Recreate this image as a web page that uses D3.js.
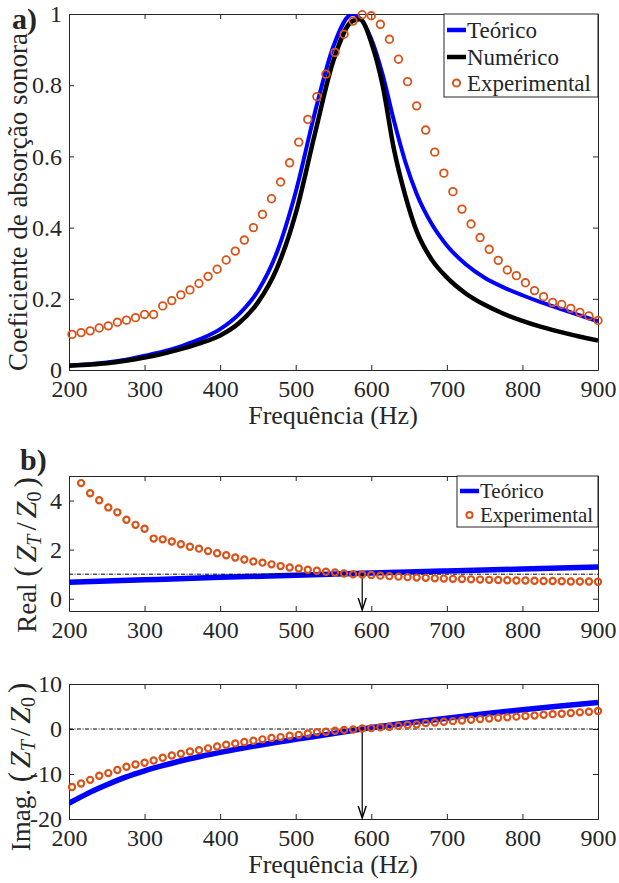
<!DOCTYPE html>
<html>
<head>
<meta charset="utf-8">
<script src="https://cdn.jsdelivr.net/npm/d3@7"></script>
<style>
  body { margin: 0; background: #fff; }
  svg { display: block; }
  text { font-family: "Liberation Serif", "Times New Roman", serif; fill: #262626; }
</style>
</head>
<body>
<div id="chart"></div>
<script>
// ---- data ----
// a) sound absorption coefficient
const freqTeo  = [200, 225, 250, 275, 300, 325, 350, 375, 400, 425, 450, 475, 500, 525, 550, 575, 600, 615, 630, 645, 660, 680, 700, 725, 750, 775, 800, 825, 850, 875, 900];
const alphaTeo = [0.012, 0.016, 0.021, 0.029, 0.040, 0.052, 0.068, 0.088, 0.115, 0.157, 0.222, 0.33, 0.50, 0.72, 0.91, 1.0, 0.93, 0.83, 0.70, 0.585, 0.495, 0.41, 0.35, 0.297, 0.259, 0.232, 0.21, 0.19, 0.172, 0.154, 0.137];

const freqNum  = [200, 225, 250, 275, 300, 325, 350, 375, 400, 425, 450, 475, 500, 525, 550, 575, 585, 600, 615, 630, 645, 660, 680, 700, 725, 750, 775, 800, 825, 850, 875, 900];
const alphaNum = [0.012, 0.015, 0.019, 0.026, 0.035, 0.046, 0.06, 0.076, 0.097, 0.132, 0.19, 0.285, 0.44, 0.66, 0.87, 0.98, 0.985, 0.92, 0.80, 0.62, 0.49, 0.39, 0.31, 0.26, 0.215, 0.183, 0.158, 0.138, 0.121, 0.107, 0.094, 0.083];

const freqExp  = [204, 216, 228, 240, 252, 264, 276, 288, 300, 312, 324, 336, 348, 360, 372, 384, 396, 408, 420, 432,
                  444, 456, 468, 480, 492, 504, 516, 528, 540, 552, 564, 576, 588, 600, 612, 624, 636, 648, 660, 672,
                  684, 696, 708, 720, 732, 744, 756, 768, 780, 792, 804, 816, 828, 840, 852, 864, 876, 888, 900];
const alphaExp = [0.100, 0.105, 0.110, 0.118, 0.124, 0.134, 0.140, 0.147, 0.156, 0.156, 0.180, 0.195, 0.211, 0.225, 0.243, 0.263, 0.283, 0.309, 0.334, 0.365,
                  0.400, 0.437, 0.481, 0.528, 0.582, 0.640, 0.704, 0.768, 0.831, 0.892, 0.943, 0.980, 0.998, 0.995, 0.971, 0.929, 0.873, 0.810, 0.742, 0.674,
                  0.612, 0.553, 0.501, 0.452, 0.410, 0.372, 0.339, 0.308, 0.281, 0.265, 0.245, 0.223, 0.206, 0.190, 0.184, 0.173, 0.162, 0.152, 0.139];

// b) normalised impedance, real part (experimental starts one step later)
const freqTeoRe = [200, 300, 400, 500, 600, 700, 800, 900];
const realTeo   = [0.67, 0.77, 0.87, 0.96, 1.05, 1.13, 1.21, 1.29];
const freqExpRe = freqExp.slice(1);
const realExp   = [4.71, 4.30, 4.01, 3.72, 3.52, 3.22, 3.01, 2.85, 2.45, 2.42, 2.33, 2.22, 2.12, 2.04, 1.94, 1.85, 1.77, 1.68, 1.60, 1.52,
                   1.47, 1.40, 1.33, 1.27, 1.23, 1.18, 1.14, 1.10, 1.07, 1.03, 1.00, 0.99, 0.97, 0.94, 0.92, 0.90, 0.88, 0.86, 0.85, 0.83,
                   0.82, 0.81, 0.80, 0.79, 0.78, 0.77, 0.76, 0.75, 0.74, 0.74, 0.73, 0.72, 0.72, 0.71, 0.70, 0.70, 0.70, 0.69];

// imaginary part
const freqTeoIm = [200, 225, 250, 275, 300, 325, 350, 375, 400, 425, 450, 475, 500, 525, 550, 575, 600, 625, 650, 675, 700, 750, 800, 850, 900];
const imagTeo   = [-16.5, -14.3, -12.4, -10.7, -9.3, -8.1, -7.0, -6.05, -5.2, -4.4, -3.65, -2.95, -2.3, -1.65, -1.0, -0.35, 0.3, 0.85, 1.4, 1.9, 2.4, 3.4, 4.3, 5.1, 5.9];
const imagExp   = [-12.9, -12.1, -11.3, -10.4, -9.8, -9.1, -8.4, -7.9, -7.5, -7.0, -6.4, -5.9, -5.5, -5.0, -4.7, -4.3, -3.9, -3.5, -3.2, -2.9,
                   -2.6, -2.3, -2.0, -1.8, -1.5, -1.3, -1.0, -0.7, -0.6, -0.4, -0.2, -0.1, 0.1, 0.2, 0.4, 0.5, 0.7, 0.9, 1.0, 1.3,
                   1.45, 1.6, 1.75, 1.9, 2.05, 2.2, 2.35, 2.5, 2.6, 2.75, 2.9, 3.0, 3.15, 3.3, 3.4, 3.55, 3.7, 3.85, 4.0];

const xTicks   = [200, 300, 400, 500, 600, 700, 800, 900];
const yTicksA  = [0, 0.2, 0.4, 0.6, 0.8, 1];
const yTicksRe = [0, 2, 4];
const yTicksIm = [-20, -10, 0, 10];
const resonance = 588;   // arrow position (Hz)

// ---- drawing ----
const BLUE = "#0000ff", ORANGE = "#d95319", AXIS = "#262626";
const L = 69, R = 598;

const svg = d3.select("#chart").append("svg")
    .attr("width", 619)
    .attr("height", 883);

function panel(id, top, bottom, yDomain, yTicks, fmt) {
    const x = d3.scaleLinear().domain([200, 900]).range([L, R]);
    const y = d3.scaleLinear().domain(yDomain).range([bottom, top]);
    const g = svg.append("g");

    svg.append("clipPath").attr("id", id)
        .append("rect").attr("x", L).attr("y", top).attr("width", R - L).attr("height", bottom - top);

    const ax = [
        d3.axisBottom(x).tickValues(xTicks).tickFormat(d3.format("d")).tickSizeInner(-5).tickSizeOuter(0).tickPadding(10),
        d3.axisTop(x).tickValues(xTicks).tickFormat("").tickSizeInner(-5).tickSizeOuter(0),
        d3.axisLeft(y).tickValues(yTicks).tickFormat(fmt).tickSizeInner(-5).tickSizeOuter(0).tickPadding(7),
        d3.axisRight(y).tickValues(yTicks).tickFormat("").tickSizeInner(-5).tickSizeOuter(0)
    ];
    const pos = [`translate(0,${bottom})`, `translate(0,${top})`, `translate(${L},0)`, `translate(${R},0)`];
    ax.forEach(function (a, i) {
        const ga = g.append("g").attr("transform", pos[i]).call(a);
        ga.selectAll("path, line").attr("stroke", AXIS).attr("stroke-width", 1);
        ga.selectAll("text")
            .style("font-family", '"Liberation Serif", serif')
            .style("font-size", "24px")
            .attr("fill", AXIS);
    });

    const plot = svg.append("g").attr("clip-path", `url(#${id})`);
    return { x: x, y: y, plot: plot };
}

function addLine(p, xs, ys, color, width) {
    const line = d3.line()
        .x(function (d, i) { return p.x(xs[i]); })
        .y(function (d) { return p.y(d); })
        .curve(d3.curveMonotoneX);
    p.plot.append("path")
        .datum(ys)
        .attr("d", line)
        .attr("fill", "none")
        .attr("stroke", color)
        .attr("stroke-width", width);
}

function addDots(p, xs, ys, r, sw) {
    svg.append("g").selectAll("circle")
        .data(ys)
        .join("circle")
        .attr("cx", function (d, i) { return p.x(xs[i]); })
        .attr("cy", function (d) { return p.y(d); })
        .attr("r", r)
        .attr("fill", "none")
        .attr("stroke", ORANGE)
        .attr("stroke-width", sw);
}

function refLine(p, v) {
    p.plot.append("line")
        .attr("x1", p.x(200)).attr("x2", p.x(900))
        .attr("y1", p.y(v)).attr("y2", p.y(v))
        .attr("stroke", "#000").attr("stroke-width", 1)
        .attr("stroke-dasharray", "4,1.5,1,1.5");
}

function arrow(p, from) {
    const xa = p.x(resonance), y0 = p.y(from), y1 = p.y(p.y.domain()[0]) - 1;
    svg.append("line")
        .attr("x1", xa).attr("x2", xa).attr("y1", y0).attr("y2", y1)
        .attr("stroke", "#000").attr("stroke-width", 1.2);
    svg.append("path")
        .attr("d", `M${xa - 4},${y1 - 12} L${xa},${y1} L${xa + 4},${y1 - 12}`)
        .attr("fill", "none").attr("stroke", "#000").attr("stroke-width", 1.4);
}

function text(x, y, str, size, anchor, rot) {
    return svg.append("text")
        .attr("transform", `translate(${x},${y})` + (rot ? " rotate(-90)" : ""))
        .attr("text-anchor", anchor || "start")
        .style("font-size", size + "px")
        .text(str);
}

function zLabel(x, y, prefix) {
    const t = svg.append("text")
        .attr("transform", `translate(${x},${y}) rotate(-90)`)
        .attr("text-anchor", "middle")
        .style("font-size", "27px");
    t.append("tspan").text(prefix + " ");
    t.append("tspan").style("font-size", "31px").text("(");
    t.append("tspan").attr("dx", 4).style("font-style", "italic").style("font-size", "30px").text("Z");
    t.append("tspan").attr("dy", 5).style("font-style", "italic").style("font-size", "20px").text("T");
    t.append("tspan").attr("dy", -5).attr("dx", 4).style("font-size", "30px").text("/");
    t.append("tspan").attr("dx", 4).style("font-style", "italic").style("font-size", "30px").text("Z");
    t.append("tspan").attr("dy", 5).style("font-size", "20px").text("0");
    t.append("tspan").attr("dy", -5).attr("dx", 4).style("font-size", "31px").text(")");
}

function legend(x0, y0, x1, y1, items, size, rowY, r) {
    svg.append("rect")
        .attr("x", x0).attr("y", y0).attr("width", x1 - x0).attr("height", y1 - y0)
        .attr("fill", "#fff").attr("stroke", AXIS).attr("stroke-width", 1);
    items.forEach(function (it, i) {
        const yy = rowY[i];
        if (it.type === "line") {
            svg.append("line")
                .attr("x1", x0 + 3).attr("x2", x0 + 22).attr("y1", yy).attr("y2", yy)
                .attr("stroke", it.color).attr("stroke-width", 4.5);
        } else {
            svg.append("circle")
                .attr("cx", x0 + 12.5).attr("cy", yy).attr("r", r)
                .attr("fill", "none").attr("stroke", ORANGE).attr("stroke-width", 2);
        }
        text(x0 + 23, yy + size * 0.33, it.label, size);
    });
}

const fmtA = function (d) { return d === 0 || d === 1 ? String(d) : d3.format(".1f")(d); };
const fmtI = function (d) { return String(d); };

// a)
const pa = panel("clipA", 14, 370, [0, 1], yTicksA, fmtA);
addLine(pa, freqTeo, alphaTeo, BLUE, 4);
addLine(pa, freqNum, alphaNum, "#000", 4.5);
addDots(pa, freqExp, alphaExp, 3.8, 1.8);
legend(444, 14, 598, 97, [
    { type: "line", color: BLUE, label: "Teórico" },
    { type: "line", color: "#000", label: "Numérico" },
    { type: "dot", label: "Experimental" }
], 23, [30, 57, 83], 3.6);
text(333, 424, "Frequência (Hz)", 26, "middle");
text(27, 202, "Coeficiente de absorção sonora", 27, "middle", true);
svg.append("text").attr("x", 12).attr("y", 29).style("font-size", "30px").style("font-weight", "bold").text("a)");

// b) real part
const pb = panel("clipB", 476, 611, [-0.5, 5], yTicksRe, fmtI);
addLine(pb, freqTeoRe, realTeo, BLUE, 5.5);
refLine(pb, 1);
arrow(pb, 1);
addDots(pb, freqExpRe, realExp, 3.1, 2.2);
legend(457, 476, 598, 527, [
    { type: "line", color: BLUE, label: "Teórico" },
    { type: "dot", label: "Experimental" }
], 21, [491, 515], 3.1);
zLabel(36, 555, "Real");
svg.append("text").attr("x", 20).attr("y", 470).style("font-size", "30px").style("font-weight", "bold").text("b)");

// imaginary part
const pc = panel("clipC", 684, 819, [-20, 10], yTicksIm, fmtI);
addLine(pc, freqTeoIm, imagTeo, BLUE, 5.5);
refLine(pc, 0);
arrow(pc, 0);
addDots(pc, freqExp, imagExp, 3.1, 2.2);
zLabel(30, 767, "Imag.");
text(333, 873, "Frequência (Hz)", 26, "middle");
</script>
</body>
</html>
